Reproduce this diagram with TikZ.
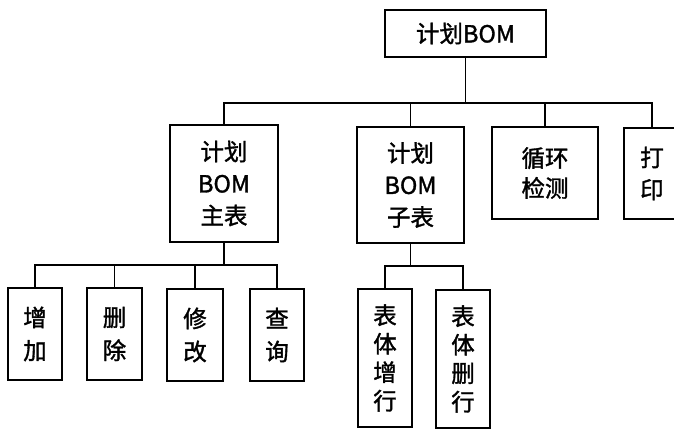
\documentclass[tikz,border=0pt]{standalone}
\usepackage{fontspec}
\setmainfont{Noto Sans CJK SC}
\newfontfamily\medfont{Noto Sans CJK SC}[FakeBold=1.4]
\begin{document}
\begin{tikzpicture}[x=1pt,y=1pt,
  box/.style={draw=black, line width=1.8pt, inner sep=0pt, align=center,
    font=\medfont\fontsize{23.5}{32}\selectfont},
  conn/.style={draw=black, line width=1.7pt}]
\useasboundingbox (0,0) rectangle (674,430);
\clip (0,0) rectangle (674,430);
% level 0
\node[box, minimum width=161, minimum height=47] (root) at (465.5,396.5) {计划BOM};
% level 1
\node[box, minimum width=108, minimum height=117] (zhu) at (224,246.5) {计划\\BOM\\主表};
\node[box, minimum width=107, minimum height=116] (zi) at (410.5,245) {计划\\BOM\\子表};
\node[box, minimum width=106, minimum height=92, font=\medfont\fontsize{23.5}{30}\selectfont] (xh) at (545,257) {循环\\检测};
\node[box, minimum width=56, minimum height=91] (dy) at (652,256.5) {打\\印};
% level 2 under zhu
\node[box, minimum width=54, minimum height=92, font=\medfont\fontsize{23.5}{33}\selectfont] (zj) at (35,96) {增\\加};
\node[box, minimum width=55, minimum height=92, font=\medfont\fontsize{23.5}{33}\selectfont] (sc) at (114.5,96) {删\\除};
\node[box, minimum width=56, minimum height=92, font=\medfont\fontsize{23.5}{33}\selectfont] (xg) at (195,95) {修\\改};
\node[box, minimum width=54, minimum height=92, font=\medfont\fontsize{23.5}{33}\selectfont] (cx) at (277,95) {查\\询};
% level 2 under zi
\node[box, minimum width=54, minimum height=138, font=\medfont\fontsize{23.5}{28.5}\selectfont] (bz) at (385,72) {表\\体\\增\\行};
\node[box, minimum width=54, minimum height=138, font=\medfont\fontsize{23.5}{28.5}\selectfont] (bs) at (463,71) {表\\体\\删\\行};
% bars
\coordinate (bar1) at (0,327);
\coordinate (bar2) at (0,165);
\coordinate (bar3) at (0,164);
% connectors level 0 -> 1
\draw[conn] (root.south) -- (root.south |- bar1);
\draw[conn] (zhu.north) |- (dy.north |- bar1) -- (dy.north);
\draw[conn] (zi.north) -- (zi.north |- bar1);
\draw[conn] (xh.north) -- (xh.north |- bar1);
% connectors zhu -> children
\draw[conn] (zhu.south) -- (zhu.south |- bar2);
\draw[conn] (zj.north) |- (cx.north |- bar2) -- (cx.north);
\draw[conn] (sc.north) -- (sc.north |- bar2);
\draw[conn] (xg.north) -- (xg.north |- bar2);
% connectors zi -> children
\draw[conn] (zi.south) -- (zi.south |- bar3);
\draw[conn] (bz.north) |- (bs.north |- bar3) -- (bs.north);
\end{tikzpicture}
\end{document}
